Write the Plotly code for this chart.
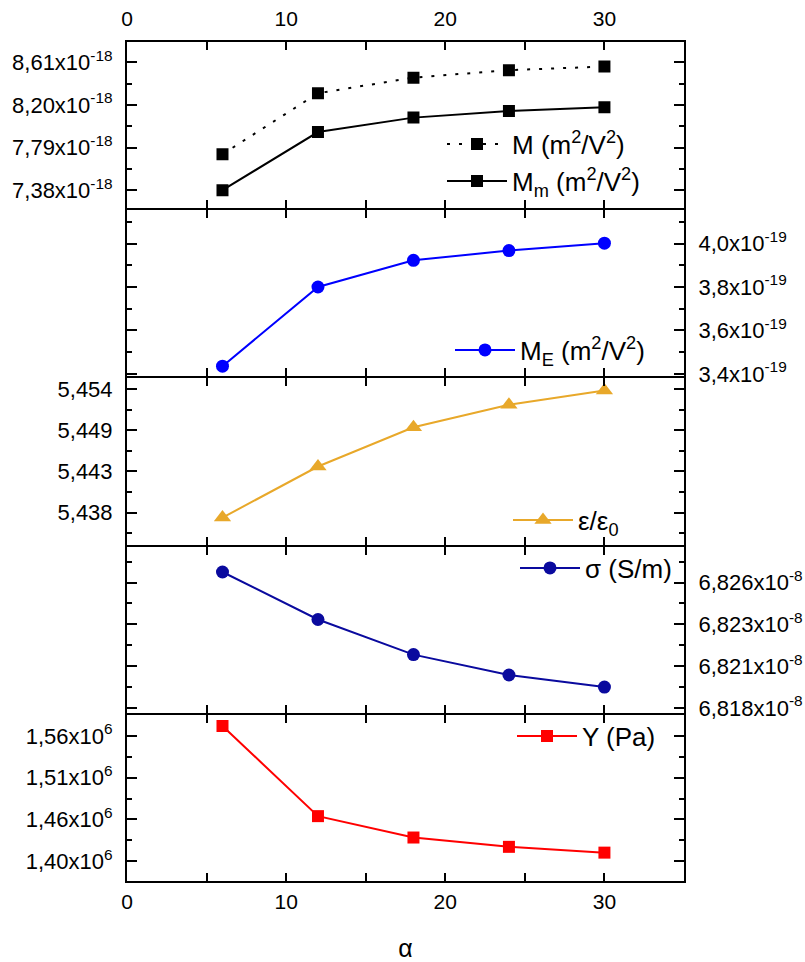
import plotly.graph_objects as go
from plotly.subplots import make_subplots

# ---------------- data ----------------
alpha = [6, 12, 18, 24, 30]
M_vals = [7.726e-18, 8.313e-18, 8.463e-18, 8.535e-18, 8.570e-18]
Mm_vals = [7.380e-18, 7.939e-18, 8.078e-18, 8.142e-18, 8.178e-18]
ME_vals = [3.435e-19, 3.800e-19, 3.923e-19, 3.968e-19, 4.002e-19]
eps_vals = [5.43736, 5.44397, 5.44905, 5.45195, 5.45380]
sigma_vals = [6.82653e-8, 6.82369e-8, 6.82159e-8, 6.82037e-8, 6.81965e-8]
Y_vals = [1.5723e6, 1.4601e6, 1.4335e6, 1.4219e6, 1.4147e6]

# tick labels
x_ticks = [0, 5, 10, 15, 20, 25, 30, 35]
x_ticktext = ["0", "", "10", "", "20", "", "30", ""]

p1_ticks = [7.38e-18, 7.79e-18, 8.20e-18, 8.61e-18]
p1_text = ["7,38x10<sup>-18</sup>", "7,79x10<sup>-18</sup>", "8,20x10<sup>-18</sup>", "8,61x10<sup>-18</sup>"]
p2_ticks = [3.4e-19, 3.6e-19, 3.8e-19, 4.0e-19]
p2_text = ["3,4x10<sup>-19</sup>", "3,6x10<sup>-19</sup>", "3,8x10<sup>-19</sup>", "4,0x10<sup>-19</sup>"]
p3_ticks = [5.438, 5.44333, 5.44867, 5.454]
p3_text = ["5,438", "5,443", "5,449", "5,454"]
p4_ticks = [6.8184e-8, 6.8209e-8, 6.8234e-8, 6.8259e-8]
p4_text = ["6,818x10<sup>-8</sup>", "6,821x10<sup>-8</sup>", "6,823x10<sup>-8</sup>", "6,826x10<sup>-8</sup>"]
p5_ticks = [1.404e6, 1.456e6, 1.508e6, 1.560e6]
p5_text = ["1,40x10<sup>6</sup>", "1,46x10<sup>6</sup>", "1,51x10<sup>6</sup>", "1,56x10<sup>6</sup>"]

p1_range = [7.206e-18, 8.806e-18]
p2_range = [3.388e-19, 4.154e-19]
p3_range = [5.43387, 5.45537]
p4_range = [6.81811e-8, 6.82805e-8]
p5_range = [1.3794e6, 1.5862e6]

FONT = "Liberation Sans, Arial, sans-serif"

L, R, T, B = 127, 121, 42, 81
W, H = 805, 962
pw, ph = W - L - R, H - T - B
LW = 2

fig = make_subplots(rows=5, cols=1, shared_xaxes=True, vertical_spacing=LW / ph)

def add(y, name, color, symbol, size, row, legend, dash="solid"):
    fig.add_trace(go.Scatter(
        x=alpha, y=y, name=name, mode="lines+markers",
        line=dict(color=color, width=2, dash=dash),
        marker=dict(color=color, symbol=symbol, size=size),
        legend=legend, showlegend=True), row=row, col=1)

add(M_vals, "M (m<sup>2</sup>/V<sup>2</sup>)", "black", "square", 12, 1, "legend", dash="3px,9px")
add(Mm_vals, "M<sub>m</sub> (m<sup>2</sup>/V<sup>2</sup>)", "black", "square", 12, 1, "legend2")
add(ME_vals, "M<sub>E</sub> (m<sup>2</sup>/V<sup>2</sup>)", "#0000FF", "circle", 13, 2, "legend3")
add(eps_vals, "ε/ε<sub>0</sub>", "#E8A82A", "triangle-up", 15, 3, "legend4")
add(sigma_vals, "σ (S/m)", "#0A0A9E", "circle", 13, 4, "legend5")
add(Y_vals, "Y (Pa)", "#FF0000", "square", 12, 5, "legend6")

common_x = dict(range=[0, 35], tickmode="array", tickvals=x_ticks, ticktext=x_ticktext,
                ticks="inside", ticklen=8, tickwidth=1.5, tickcolor="black",
                showline=True, linecolor="black", linewidth=LW, mirror="ticks",
                showgrid=False, zeroline=False, automargin=False,
                tickfont=dict(family=FONT, size=21, color="black"))
for r in range(1, 6):
    fig.update_xaxes(**common_x, row=r, col=1)
fig.update_xaxes(side="top", showticklabels=True, ticklabelstandoff=6, row=1, col=1)
fig.update_xaxes(showticklabels=True, ticklabelstandoff=1,
                 title=dict(text="α", font=dict(family=FONT, size=25, color="black"), standoff=31),
                 row=5, col=1)

def minors(ticks, rng):
    step = ticks[1] - ticks[0]
    out = []
    for k in range(-2, len(ticks) + 2):
        v = ticks[0] + (k + 0.5) * step
        if rng[0] < v < rng[1]:
            out.append(v)
    return out

def yax(row, ticks, text, rng, side):
    fig.update_yaxes(range=rng, tickmode="array", tickvals=ticks, ticktext=text, side=side,
                     ticks="inside", ticklen=10, tickwidth=1.5, tickcolor="black",
                     minor=dict(tickmode="array", tickvals=minors(ticks, rng), ticks="inside",
                                ticklen=5, tickwidth=1.5, tickcolor="black"),
                     showline=True, linecolor="black", linewidth=LW, mirror="ticks",
                     showgrid=False, zeroline=False, ticklabelstandoff=8, automargin=False,
                     tickfont=dict(family=FONT, size=22, color="black"),
                     row=row, col=1)

yax(1, p1_ticks, p1_text, p1_range, "left")
yax(2, p2_ticks, p2_text, p2_range, "right")
yax(3, p3_ticks, p3_text, p3_range, "left")
yax(4, p4_ticks, p4_text, p4_range, "right")
yax(5, p5_ticks, p5_text, p5_range, "left")

def px(xpix):
    return (xpix - L) / pw

def py(ypix):
    return (H - B - ypix) / ph

leg_font = dict(family=FONT, size=26, color="black")
def leg(xtext, ycen):
    return dict(x=px(xtext - 70), y=py(ycen), xanchor="left", yanchor="middle",
                bgcolor="rgba(0,0,0,0)", borderwidth=0, font=leg_font, itemwidth=60)

fig.update_layout(
    width=W, height=H,
    margin=dict(l=L, r=R, t=T, b=B, autoexpand=False),
    paper_bgcolor="white", plot_bgcolor="white",
    font=dict(family=FONT, color="black"),
    showlegend=True,
    legend=leg(512, 144),
    legend2=leg(512, 181),
    legend3=leg(520, 350),
    legend4=leg(578, 520),
    legend5=leg(585, 568),
    legend6=leg(582, 736),
)

fig.write_html("out.html", config={"displayModeBar": False},
               post_script="document.body.style.margin='0';document.body.style.overflow='hidden';")
